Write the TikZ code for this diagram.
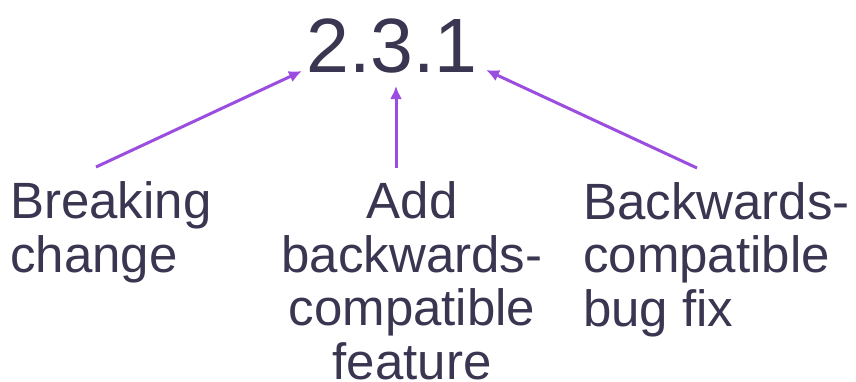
\documentclass[tikz,border=0pt]{standalone}
\usepackage{fontspec}
\setmainfont{Liberation Sans}
\usetikzlibrary{arrows.meta}
\definecolor{ink}{HTML}{3A3550}
\definecolor{violet}{HTML}{9A4DDF}
\tikzset{
  label/.style={inner sep=0pt, text=ink, font=\fontsize{51}{53.5}\selectfont},
  version/.style={inner sep=0pt, text=ink, font=\fontsize{77}{80}\selectfont},
  arr/.style={draw=violet, line width=3pt, -{Latex[length=13pt,width=12pt]}},
}
\begin{document}
\begin{tikzpicture}[x=1pt,y=-1pt]
  \useasboundingbox (0,0) rectangle (856,381);

  % version number
  \node[version, anchor=base west] (ver) at (306,72) {2.3.1};

  % what each part means (anchored at the baseline of the last line)
  \node[label, anchor=base west, align=left] (major) at (10,272) {Breaking\\change};
  \node[label, anchor=base, align=center] (minor) at (412,379) {Add\\backwards-\\compatible\\feature};
  \node[label, anchor=base west, align=left] (patch) at (583,326) {Backwards-\\compatible\\bug fix};

  % arrow end points
  \coordinate (majS) at (96,167);
  \coordinate (majE) at (302,71);
  \coordinate (minS) at (396,168);
  \coordinate (minE) at (396,86);
  \coordinate (patS) at (697,168);
  \coordinate (patE) at (486,70);

  \draw[arr] (majS) -- (majE);
  \draw[arr] (minS) -- (minE);
  \draw[arr] (patS) -- (patE);
\end{tikzpicture}
\end{document}
